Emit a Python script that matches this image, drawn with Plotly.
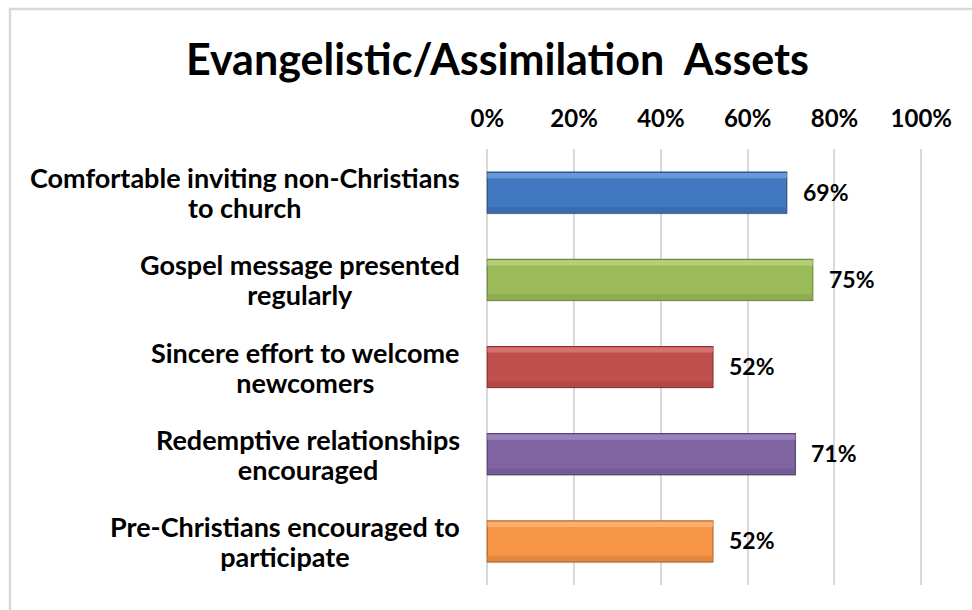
import plotly.graph_objects as go

# Survey items, shares of respondents, and bar colours
categories = [
    "Comfortable inviting non-Christians<br>to church",
    "Gospel message presented<br>regularly",
    "Sincere effort to welcome<br>newcomers",
    "Redemptive relationships<br>encouraged",
    "Pre-Christians encouraged to<br>participate",
]
values = [69, 75, 52, 71, 52]
fill_colors = ["#4178c0", "#9bbb59", "#c0504d", "#8064a2", "#f79646"]
edge_colors = ["#2c5286", "#6f8a3a", "#8e3331", "#5a4677", "#b86a2c"]
highlight_colors = ["#6fa2dc", "#b9d67f", "#d97b78", "#a58ac4", "#fbb777"]
shade_colors = ["#386aab", "#8aa84e", "#ab4643", "#705891", "#e0843d"]
tick_vals = [0, 20, 40, 60, 80, 100]
tick_text = ["0%", "20%", "40%", "60%", "80%", "100%"]

FONT = "Lato, 'Open Sans', sans-serif"

fig = go.Figure()

# soft drop shadow below each bar
fig.add_trace(go.Bar(
    y=categories, x=values, orientation="h",
    marker=dict(color="rgba(0,0,0,0.12)", line=dict(width=0)),
    width=0.47, offset=-0.22, hoverinfo="skip", showlegend=False,
))

# main bars
fig.add_trace(go.Bar(
    y=categories, x=values, orientation="h",
    marker=dict(color=fill_colors, line=dict(color=edge_colors, width=1.2)),
    width=0.47, offset=-0.235, showlegend=False,
))

# light bevel strip along the top of each bar
fig.add_trace(go.Bar(
    y=categories, x=values, orientation="h",
    marker=dict(color=highlight_colors, line=dict(width=0), opacity=0.8),
    width=0.06, offset=-0.225, hoverinfo="skip", showlegend=False,
))

# slightly darker strip along the bottom of each bar
fig.add_trace(go.Bar(
    y=categories, x=values, orientation="h",
    marker=dict(color=shade_colors, line=dict(width=0), opacity=0.8),
    width=0.06, offset=0.165, hoverinfo="skip", showlegend=False,
))

# value labels just past the end of each bar
for cat, v in zip(categories, values):
    fig.add_annotation(
        x=v, xref="x", y=cat, yref="y",
        text=f"<b>{v}%</b>", showarrow=False,
        xanchor="left", yanchor="middle", xshift=14, yshift=1,
        font=dict(family=FONT, size=23, color="#000000"),
    )

# centred two-line category labels to the left of the plot
# (base font sets the line spacing, the span sets the glyph size)
for cat in categories:
    styled = "<br>".join(
        f"<span style='font-size:27px'><b>{part}</b></span>" for part in cat.split("<br>")
    )
    fig.add_annotation(
        x=-0.055, xref="paper", y=cat, yref="y",
        text=styled, showarrow=False,
        xanchor="right", yanchor="middle", align="center",
        font=dict(family=FONT, size=23, color="#000000"),
    )

# outer light-grey frame of the chart
fig.add_shape(
    type="rect", xref="paper", yref="paper",
    x0=(10 - 486) / 437, x1=1.3, y0=-0.2, y1=(585 - 9) / 436,
    line=dict(color="#d9d9d9", width=2.5), fillcolor="rgba(0,0,0,0)",
    layer="below",
)

fig.update_layout(
    width=972, height=610,
    margin=dict(l=486, r=49, t=149, b=25),
    paper_bgcolor="white", plot_bgcolor="white",
    barmode="overlay", bargap=0.5,
    title=dict(
        text="<b>Evangelistic/Assimilation  Assets</b>",
        x=497.5 / 972, xref="container", xanchor="center",
        y=1 - 60 / 610, yref="container", yanchor="middle",
        font=dict(family=FONT, size=43, color="#000000"),
    ),
    xaxis=dict(
        range=[-0.3, 100.4], side="top",
        tickvals=tick_vals, ticktext=[f"<b>{t}</b>" for t in tick_text],
        tickfont=dict(family=FONT, size=24, color="#000000"),
        showgrid=True, gridcolor="#d9d9d9", gridwidth=2,
        zeroline=True, zerolinecolor="#d9d9d9", zerolinewidth=2,
        showline=False, ticks="",
        ticklabelstandoff=16,
    ),
    yaxis=dict(
        categoryorder="array", categoryarray=categories,
        autorange="reversed", showticklabels=False,
        showgrid=False, zeroline=False, showline=False, ticks="",
    ),
)

fig.write_html("out.html")
